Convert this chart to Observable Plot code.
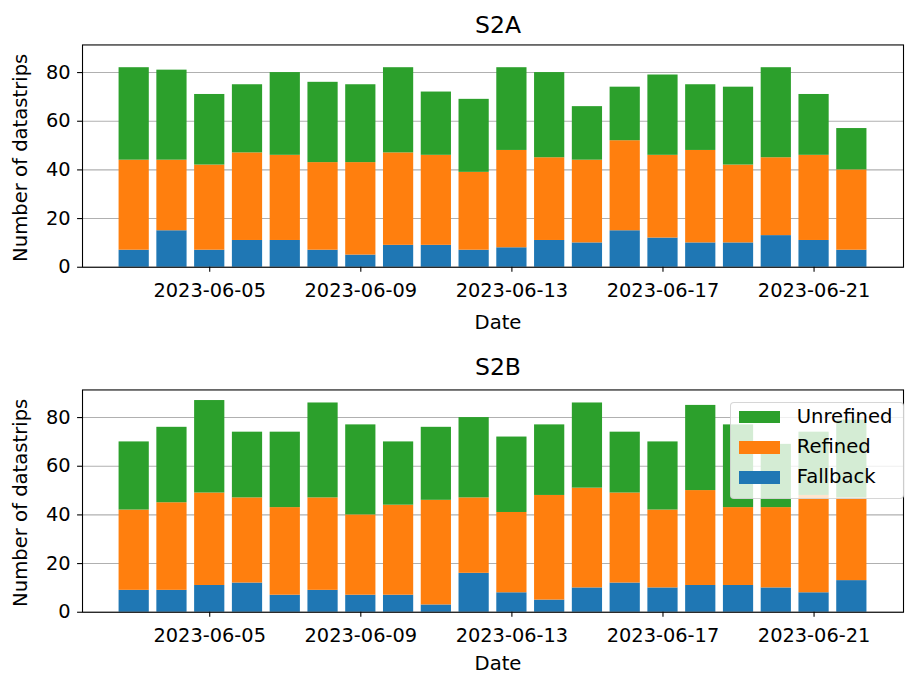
<!DOCTYPE html>
<html><head><meta charset="utf-8">
<script src="https://cdn.jsdelivr.net/npm/d3@7"></script>
<script src="https://cdn.jsdelivr.net/npm/@observablehq/plot@0.6"></script>
<style>
html,body{margin:0;padding:0;background:#fff;}
body{width:905px;height:675px;overflow:hidden;position:relative;font-family:"DejaVu Sans",sans-serif;color:#000;}
.abs{position:absolute;line-height:1;white-space:nowrap;}
svg{position:absolute;left:0;}
</style></head><body>
<script>
// ---- data ----
const dates = ["2023-06-03","2023-06-04","2023-06-05","2023-06-06","2023-06-07","2023-06-08","2023-06-09","2023-06-10","2023-06-11","2023-06-12",
               "2023-06-13","2023-06-14","2023-06-15","2023-06-16","2023-06-17","2023-06-18","2023-06-19","2023-06-20","2023-06-21","2023-06-22"];
const categories = ["Fallback", "Refined", "Unrefined"];
const colors = ["#1f77b4", "#ff7f0e", "#2ca02c"];
const legendOrder = ["Unrefined", "Refined", "Fallback"];

const s2aFallback  = [7, 15, 7, 11, 11, 7, 5, 9, 9, 7, 8, 11, 10, 15, 12, 10, 10, 13, 11, 7];
const s2aRefined   = [37, 29, 35, 36, 35, 36, 38, 38, 37, 32, 40, 34, 34, 37, 34, 38, 32, 32, 35, 33];
const s2aUnrefined = [38, 37, 29, 28, 34, 33, 32, 35, 26, 30, 34, 35, 22, 22, 33, 27, 32, 37, 25, 17];

const s2bFallback  = [9, 9, 11, 12, 7, 9, 7, 7, 3, 16, 8, 5, 10, 12, 10, 11, 11, 10, 8, 13];
const s2bRefined   = [33, 36, 38, 35, 36, 38, 33, 37, 43, 31, 33, 43, 41, 37, 32, 39, 32, 33, 40, 34];
const s2bUnrefined = [28, 31, 38, 27, 31, 39, 37, 26, 30, 33, 31, 29, 35, 25, 28, 35, 34, 26, 26, 32];

const yTicks = [0, 20, 40, 60, 80];
const xTickLabels = ["2023-06-05", "2023-06-09", "2023-06-13", "2023-06-17", "2023-06-21"];
const yMax = 91.35;
const titles = ["S2A", "S2B"];
const xLabel = "Date";
const yLabel = "Number of datastrips";

// ---- build ----
const DAY = 864e5;
const parse = d3.utcParse("%Y-%m-%d");
const FS = 19.6;

function rowsFor(f, r, u) {
  const rows = [];
  dates.forEach((d, i) => {
    const date = parse(d);
    rows.push({date, category: "Fallback", value: f[i]});
    rows.push({date, category: "Refined", value: r[i]});
    rows.push({date, category: "Unrefined", value: u[i]});
  });
  return rows;
}

function addText(text, x, baseline, size, opts = {}) {
  const el = document.createElement("div");
  el.className = "abs";
  el.textContent = text;
  el.style.fontSize = size + "px";
  el.style.top = (baseline - 0.846 * size) + "px";
  el.style.left = x + "px";
  el.style.transform = "translateX(-50%)";
  Object.assign(el.style, opts);
  document.body.appendChild(el);
  return el;
}

function addYLabel(text, cx, cy) {
  const el = document.createElement("div");
  el.className = "abs";
  el.textContent = text;
  el.style.fontSize = FS + "px";
  el.style.width = "400px";
  el.style.height = FS + "px";
  el.style.textAlign = "center";
  el.style.left = (cx - 200) + "px";
  el.style.top = (cy - FS / 2) + "px";
  el.style.transform = "rotate(-90deg)";
  document.body.appendChild(el);
}

function panel(rows, top) {
  const svg = Plot.plot({
    width: 916, height: 340,
    marginTop: 45, marginBottom: 70, marginLeft: 83, marginRight: 2,
    style: {fontFamily: "DejaVu Sans", fontSize: FS + "px", color: "#000", background: "transparent"},
    x: {type: "utc", domain: [new Date(+parse(dates[0]) - 1.368 * DAY), new Date(+parse(dates[dates.length - 1]) + 1.368 * DAY)]},
    y: {domain: [0, yMax]},
    color: {domain: categories, range: colors},
    marks: [
      Plot.ruleY(yTicks, {stroke: "#b0b0b0", strokeWidth: 1.1}),
      Plot.rectY(rows, {
        x1: d => new Date(+d.date - 0.4 * DAY),
        x2: d => new Date(+d.date + 0.4 * DAY),
        y: "value", fill: "category"
      }),
      Plot.frame({stroke: "#000", strokeWidth: 1.1}),
      Plot.axisY({ticks: yTicks, tickSize: 5, tickPadding: 7, label: null, fontSize: FS, strokeWidth: 1.1}),
      Plot.axisX({ticks: xTickLabels.map(parse), tickFormat: d3.utcFormat("%Y-%m-%d"), tickSize: 5, tickPadding: 11, label: null, fontSize: FS, strokeWidth: 1.1})
    ]
  });
  svg.style.top = top + "px";
  document.body.appendChild(svg);
}

panel(rowsFor(s2aFallback, s2aRefined, s2aUnrefined), 0);
panel(rowsFor(s2bFallback, s2bRefined, s2bUnrefined), 345);

addText(titles[0], 498, 34, 23.5);
addText(titles[1], 498, 375.5, 23.5);
addText(xLabel, 498, 330, FS);
addText(xLabel, 498, 671.5, FS, {lineHeight: "0.9"});
addYLabel(yLabel, 20.5, 157.5);
addYLabel(yLabel, 20.5, 502.5);

// legend (bottom panel)
const leg = document.createElement("div");
leg.className = "abs";
Object.assign(leg.style, {left: "730px", top: "402px", width: "174px", height: "97px", boxSizing: "border-box",
  background: "rgba(255,255,255,0.8)", border: "1px solid rgba(204,204,204,0.8)", borderRadius: "4px"});
legendOrder.forEach((c, i) => {
  const sw = document.createElement("div");
  Object.assign(sw.style, {position: "absolute", left: "7.5px", top: (7.8 + i * 30.3) + "px", width: "41.7px", height: "12.7px",
    background: colors[categories.indexOf(c)]});
  leg.appendChild(sw);
  const t = document.createElement("div");
  t.className = "abs";
  t.textContent = c;
  Object.assign(t.style, {left: "65.7px", top: (20.3 + i * 30.3 - 0.846 * FS) + "px", fontSize: FS + "px"});
  leg.appendChild(t);
});
document.body.appendChild(leg);
</script>
</body></html>
